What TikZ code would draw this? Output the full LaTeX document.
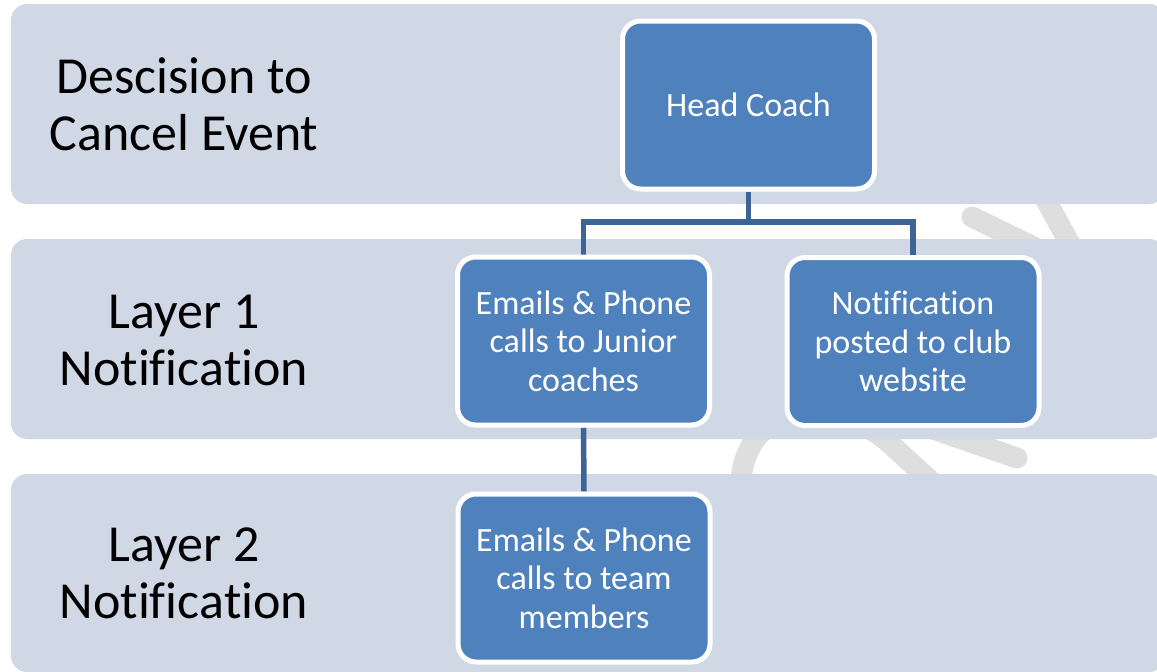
\documentclass[tikz,border=0pt]{standalone}
\usepackage{fontspec}
\setmainfont[RawFeature={-liga;-clig;-dlig}]{Carlito}
\newcommand{\nolig}{\kern0pt}
\definecolor{bandfill}{RGB}{208,215,229}
\definecolor{boxfill}{RGB}{79,129,189}
\definecolor{linkblue}{RGB}{62,100,150}
\definecolor{markgray}{RGB}{222,222,222}
\pgfdeclarelayer{back}
\pgfdeclarelayer{mid}
\pgfsetlayers{back,mid,main}
\begin{document}
\begin{tikzpicture}[x=1pt,y=-1pt,
  band/.style={fill=bandfill, rounded corners=16pt},
  layerlabel/.style={align=center, font=\fontsize{52}{57}\selectfont, text=black, inner sep=0pt},
  stepbox/.style={draw=white, line width=5pt, fill=boxfill, rounded corners=18pt,
    minimum width=252pt, minimum height=168pt, align=center, text=white,
    font=\fontsize{34}{38.5}\selectfont, inner sep=0pt},
  link/.style={draw=linkblue, line width=5.5pt},
  wmark/.style={draw=markgray, line width=21pt}
]
\useasboundingbox (0,0) rectangle (1157,672);

\begin{pgfonlayer}{back}
% faint background strokes, mostly hidden behind the bands
\draw[wmark, line cap=round] (972,217) -- (1075,267);
\draw[wmark] (1035,180) -- (1095,290);
\draw[wmark] (741,495) .. controls (736,415) and (815,385) .. (886,440) -- (935,485);
\draw[wmark, line cap=round] (930,428) -- (1017,458);

% the three layer bands
\fill[band] (11,4) rectangle (1165,204);
\fill[band] (11,239) rectangle (1165,439);
\fill[band] (11,474) rectangle (1165,672);
\end{pgfonlayer}

% layer captions
\node[layerlabel] (cap0) at (184,104) {Descision to\\Cancel Event};
\node[layerlabel] (cap1) at (184,340) {Layer 1\\Notif\nolig ica\nolig tion};
\node[layerlabel] (cap2) at (184,573) {Layer 2\\Notif\nolig ica\nolig tion};

% steps
\node[stepbox] (hc) at (748.5,105) {Head Coach};
\node[stepbox] (jr) at (583.5,341) {Emails \& Phone\\calls to Junior\\coaches};
\node[stepbox] (web) at (913,341.5) {Notif\nolig ica\nolig tion\\posted to club\\website};
\node[stepbox] (team) at (584,578) {Emails \& Phone\\calls to team\\members};

% connectors, kept beneath the boxes
\begin{pgfonlayer}{mid}
\coordinate (bus) at (748.5,222);
\draw[link] (hc.south) -- (bus) -| (jr.north);
\draw[link] (bus) -| (web.north);
\draw[link] (jr.south) -- (team.north);
\end{pgfonlayer}
\end{tikzpicture}
\end{document}
